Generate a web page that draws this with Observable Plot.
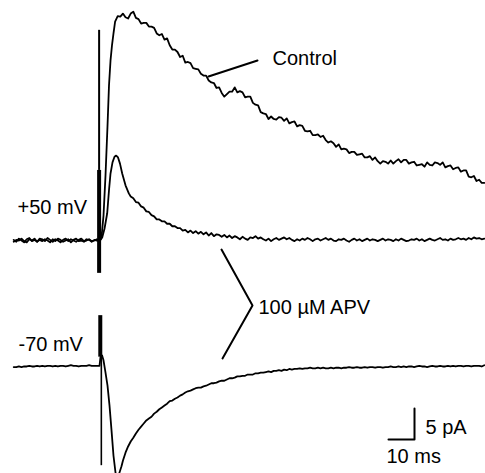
<!DOCTYPE html>
<html>
<head>
<meta charset="utf-8">
<script src="https://cdn.jsdelivr.net/npm/d3@7"></script>
<script src="https://cdn.jsdelivr.net/npm/@observablehq/plot@0.6"></script>
<style>
  html, body { margin: 0; padding: 0; background: #fff; }
  #chart svg { display: block; }
</style>
</head>
<body>
<div id="chart"></div>
<script>
// ---------------- DATA (time in ms after stimulus, current in pA) ----------------
// pre-stimulus baselines, sampled every 1 ms from -33 to 0 ms
const baselineTimes = d3.range(-33, 1);
const controlBaseline = [0.1,-0.2,0.3,0.0,-0.3,0.2,0.4,-0.1,0.1,-0.2,0.3,0.2,-0.1,0.4,0.1,-0.2,0.2,0.0,-0.3,0.1,0.3,-0.1,0.2,0.0,-0.2,0.1,0.3,-0.1,0.0,0.2,-0.2,0.1,0.0,-0.1];
const apvBaseline = [-0.2,0.1,0.0,0.3,-0.1,-0.3,0.2,0.0,0.3,-0.2,0.1,-0.1,0.2,0.0,-0.3,0.2,-0.1,0.3,0.1,-0.2,0.0,0.2,-0.3,0.1,0.3,-0.1,0.0,-0.2,0.2,0.1,-0.1,0.0,0.2,-0.1];
const neg70Baseline = [-0.1,-0.1,0.0,-0.1,0.0,0.0,0.1,0.0,0.0,0.1,0.0,0.1,0.0,0.1,0.1,0.0,0.1,0.0,0.1,0.1,0.0,0.1,0.2,0.1,0.1,0.0,0.1,0.1,0.1,0.2,0.1,0.1,0.1,0.1];

// +50 mV, Control: onset then decay (1 ms samples from 6 to 148 ms)
const controlOnsetT = [0.77,1.54,2.31,3.08,3.65,4.23,4.81,5.38];
const controlOnsetI = [0.5,4.0,10.5,18.5,25.0,29.0,31.5,33.4];
const controlDecayT = d3.range(6, 149);
const controlDecayI = [
  35.3,36.2,36.1,36.6,36.0,35.8,36.6,36.9,35.9,35.7,
  35.0,35.1,35.1,34.5,34.5,34.3,33.4,33.1,33.3,32.4,
  32.6,31.5,30.8,30.8,30.4,29.6,29.8,28.7,28.8,28.6,
  27.8,27.7,27.6,26.9,26.6,26.6,25.8,25.5,25.4,24.6,
  24.7,23.8,23.2,23.6,24.0,24.0,24.7,23.9,24.1,23.9,
  23.1,23.2,23.2,22.2,21.9,21.8,20.7,20.5,20.4,19.6,
  20.0,19.6,19.5,19.9,19.8,19.3,19.7,18.9,19.1,19.2,
  18.4,18.6,18.5,17.7,17.6,17.7,17.0,17.0,17.1,16.7,
  16.9,16.2,15.8,16.0,15.7,15.1,15.5,14.7,14.8,14.7,
  14.1,14.3,14.3,13.8,13.9,14.0,13.4,13.4,13.6,13.0,
  13.4,12.8,12.4,12.8,12.7,12.4,12.9,12.4,12.8,13.1,
  12.6,13.0,13.0,12.4,12.6,12.7,12.1,12.2,12.3,11.9,
  12.6,12.2,12.1,12.6,12.5,12.2,12.6,11.8,12.0,12.1,
  11.5,11.7,11.8,11.1,11.3,11.3,10.3,10.2,10.4,9.6,
  9.8,9.3,9.3
];

// +50 mV, 100 µM APV
const apvOnsetT = [1.04,1.92,2.96,3.65,4.23,5.0,5.77,6.42,7.12,7.88,8.73,10.0,11.27];
const apvOnsetI = [0.5,1.9,4.4,8.1,10.8,12.6,13.5,13.7,13.4,12.4,10.8,8.9,7.6];
const apvDecayT = d3.range(12, 149);
const apvDecayI = [
  7.1,6.8,6.2,6.1,5.5,5.3,4.7,4.6,4.1,3.9,3.4,3.4,3.1,3.1,2.7,2.7,2.3,2.3,2.0,2.0,1.6,1.7,
  1.3,1.6,1.2,1.5,1.1,1.4,1.0,1.3,0.8,1.2,0.7,1.0,0.9,0.6,0.9,0.5,0.8,0.4,0.7,
  0.5,0.2,0.6,0.3,0.1,0.5,0.4,0.7,0.3,0.5,
  0.2,0.0,0.3,-0.1,0.2,0.4,0.1,0.3,0.5,0.2,
  0.4,0.1,-0.1,0.2,0.0,0.3,0.1,0.4,0.2,-0.1,
  0.2,0.3,0.0,0.2,0.4,0.1,0.3,0.0,-0.1,0.2,
  0.1,0.3,0.0,-0.2,0.1,0.3,0.0,0.2,-0.1,0.1,
  0.3,0.0,0.2,0.1,-0.1,0.1,0.3,0.0,0.2,0.1,
  -0.1,0.2,0.0,0.3,0.1,-0.1,0.0,0.2,0.1,0.3,
  0.0,0.2,-0.1,0.1,0.3,0.1,0.0,0.2,0.4,0.1,
  0.2,0.0,0.3,0.1,0.2,0.4,0.2,0.3,0.1,0.4,
  0.2,0.5,0.3,0.4,0.2,0.3
];

// -70 mV trace
const neg70OnsetT = [0.38,0.96,1.54,2.31,3.08,3.85,4.62,5.38,6.15,6.92,7.69,8.46];
const neg70OnsetI = [1.5,1.8,1.0,-1.0,-3.1,-6.3,-10.3,-14.4,-17.1,-18.1,-17.1,-16.1];
const neg70DecayT = d3.range(9, 149);
const neg70DecayI = [
  -15.2,-13.9,-12.9,-12.1,-11.5,-10.8,-10.2,-9.7,-9.2,-8.7,
  -8.4,-8.1,-7.6,-7.3,-6.9,-6.6,-6.3,-6.0,-5.6,-5.5,
  -5.2,-5.0,-4.7,-4.5,-4.2,-4.0,-3.9,-3.7,-3.5,-3.4,
  -3.4,-3.2,-3.1,-2.9,-2.7,-2.7,-2.6,-2.4,-2.3,-2.3,
  -2.1,-1.9,-1.9,-1.8,-1.6,-1.6,-1.5,-1.5,-1.3,-1.3,
  -1.3,-1.1,-1.1,-1.0,-1.0,-0.9,-0.8,-0.9,-0.7,-0.7,
  -0.6,-0.7,-0.5,-0.6,-0.4,-0.5,-0.4,-0.4,-0.3,-0.4,
  -0.3,-0.3,-0.2,-0.3,-0.3,-0.2,-0.3,-0.2,-0.3,-0.3,
  -0.2,-0.3,-0.2,-0.2,-0.3,-0.2,-0.2,-0.1,-0.2,-0.2,
  -0.1,-0.2,-0.2,-0.1,-0.2,-0.1,-0.1,-0.2,-0.1,-0.1,
  -0.2,-0.1,-0.1,0.0,-0.1,-0.1,0.0,-0.1,0.0,-0.1,
  0.0,0.0,-0.1,0.0,0.1,0.0,0.0,-0.1,0.0,0.1,
  0.0,0.0,0.1,0.0,0.0,0.1,0.0,0.1,0.0,0.1,
  0.1,0.0,0.1,0.1,0.0,0.1,0.1,0.1,0.0,0.2
];

// stimulus artifacts (pA, relative to each trace's baseline)
const artifactPos50 = { t: -0.15, thinTop: 33.9, thickTop: 11.3, bottom: -5.3 };
const artifactNeg70 = { t: 0.3, top: 8.2, thickBottom: 1.5, bottom: -16.0 };

// labels
const labelControl = "Control";
const labelPos50 = "+50 mV";
const labelNeg70 = "-70 mV";
const labelAPV = "100 µM APV";
const scaleBarMs = 10;
const scaleBarPA = 5;

// ---------------- LAYOUT ----------------
const W = 485, H = 473;
const xDomain = [-38.08, 148.46];
const yDomain = [-37.58, 38.71];
const offsetNeg70 = -20.32;      // vertical stacking of the -70 mV trace
const px = (x) => xDomain[0] + x / W * (xDomain[1] - xDomain[0]);
const py = (y) => yDomain[1] - y / H * (yDomain[1] - yDomain[0]);

function rows(times, values, offset) {
  return times.map((t, i) => ({ t, v: values[i] + offset }));
}
const controlRows = [
  ...rows(baselineTimes, controlBaseline, 0),
  ...rows(controlOnsetT, controlOnsetI, 0),
  ...rows(controlDecayT, controlDecayI, 0)
];
const apvRows = [
  ...rows(baselineTimes, apvBaseline, 0),
  ...rows(apvOnsetT, apvOnsetI, 0),
  ...rows(apvDecayT, apvDecayI, 0)
];
const neg70Rows = [
  ...rows(baselineTimes, neg70Baseline, offsetNeg70),
  ...rows(neg70OnsetT, neg70OnsetI, offsetNeg70),
  ...rows(neg70DecayT, neg70DecayI, offsetNeg70)
];

const corner = { t: px(414), v: py(439) };
const scaleBar = [
  { t: corner.t - scaleBarMs, v: corner.v },
  { t: corner.t, v: corner.v },
  { t: corner.t, v: corner.v + scaleBarPA }
];
const controlLeader = [{ t: px(208), v: py(76) }, { t: px(257), v: py(60) }];
const bracket = [
  { t: px(221), v: py(249) },
  { t: px(252), v: py(305) },
  { t: px(222), v: py(358) }
];
const texts = [
  { s: labelControl, t: px(272), v: py(64) },
  { s: labelPos50, t: px(17), v: py(213) },
  { s: labelNeg70, t: px(18), v: py(350) },
  { s: labelAPV, t: px(258), v: py(313) },
  { s: scaleBarPA + " pA", t: px(425), v: py(433) },
  { s: scaleBarMs + " ms", t: px(386), v: py(462) }
];

const ink = "#000";
const chart = Plot.plot({
  width: W,
  height: H,
  margin: 0,
  x: { domain: xDomain, axis: null },
  y: { domain: yDomain, axis: null },
  style: { fontFamily: "'Liberation Sans', Arial, sans-serif", background: "#fff", overflow: "hidden" },
  marks: [
    Plot.line(apvRows, { x: "t", y: "v", stroke: ink, strokeWidth: 1.8 }),
    Plot.line(controlRows, { x: "t", y: "v", stroke: ink, strokeWidth: 1.8 }),
    Plot.line(neg70Rows, { x: "t", y: "v", stroke: ink, strokeWidth: 1.8 }),
    // stimulus artifacts
    Plot.ruleX([artifactPos50], { x: "t", y1: "thickTop", y2: "thinTop", stroke: ink, strokeWidth: 2 }),
    Plot.ruleX([artifactPos50], { x: "t", y1: "bottom", y2: "thickTop", stroke: ink, strokeWidth: 4 }),
    Plot.ruleX([artifactNeg70], { x: "t", y1: d => d.thickBottom + offsetNeg70, y2: d => d.top + offsetNeg70, stroke: ink, strokeWidth: 4 }),
    Plot.ruleX([artifactNeg70], { x: d => d.t + 0.4, y1: d => d.bottom + offsetNeg70, y2: d => d.thickBottom + offsetNeg70, stroke: ink, strokeWidth: 1.6 }),
    // annotations
    Plot.line(controlLeader, { x: "t", y: "v", stroke: ink, strokeWidth: 2 }),
    Plot.line(bracket, { x: "t", y: "v", stroke: ink, strokeWidth: 2 }),
    Plot.line(scaleBar, { x: "t", y: "v", stroke: ink, strokeWidth: 2 }),
    Plot.text(texts, { x: "t", y: "v", text: "s", textAnchor: "start", lineAnchor: "bottom", fontSize: 20, fill: ink })
  ]
});
document.getElementById("chart").appendChild(chart);
</script>
</body>
</html>
